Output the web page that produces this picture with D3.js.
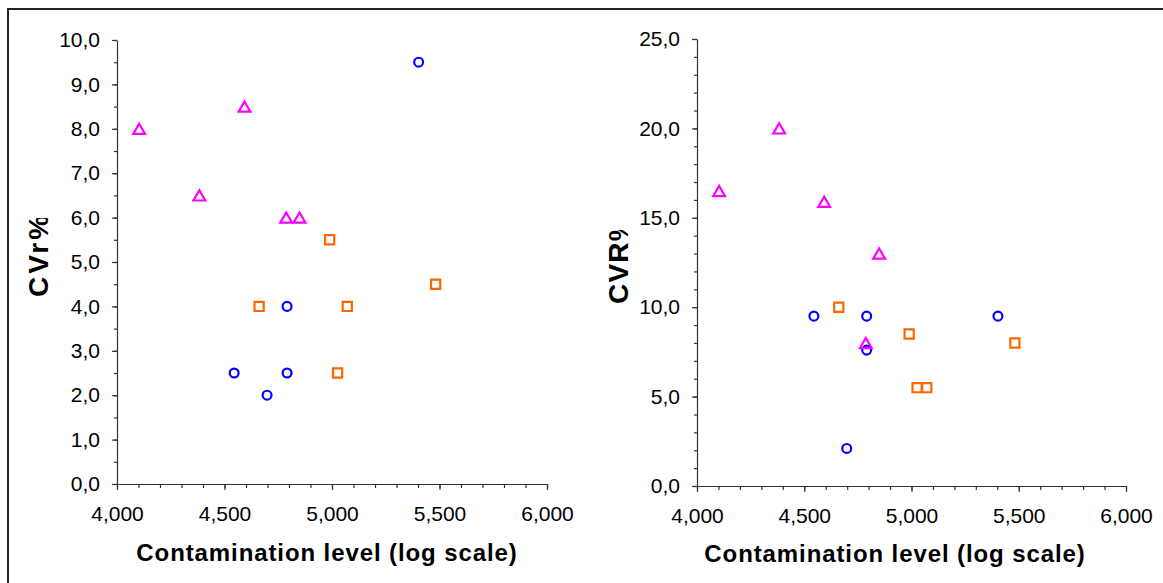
<!DOCTYPE html>
<html><head><meta charset="utf-8">
<script src="https://cdn.jsdelivr.net/npm/d3@7"></script>
<style>
body{margin:0;background:#fff}
svg{display:block}
text{font-family:"Liberation Sans",Arial,Helvetica,sans-serif;fill:#000}
</style>
</head><body>
<svg id="chart" width="1163" height="583"></svg>
<script>
// ---- data (x = log10 contamination level) ----
const xTickValues = [4.0, 4.5, 5.0, 5.5, 6.0];
const yTicksLeft = [0,1,2,3,4,5,6,7,8,9,10];
const yTicksRight = [0,5,10,15,20,25];

const xCircle   = [4.545, 4.698, 4.791, 4.791, 5.403];
const cvrCircle = [2.5, 2.0, 4.0, 2.5, 9.5];
const cvRCircle = [9.5, 2.1, 9.5, 7.6, 9.5];

const xTriangle   = [4.103, 4.383, 4.593, 4.787, 4.849];
const cvrTriangle = [8.0, 6.5, 8.5, 6.0, 6.0];
const cvRTriangle = [16.5, 20.0, 15.9, 8.0, 13.0];

const xSquare   = [4.661, 4.989, 5.026, 5.071, 5.482];
const cvrSquare = [4.0, 5.5, 2.5, 4.0, 4.5];
const cvRSquare = [10.0, 8.5, 5.5, 5.5, 8.0];

const xTitle = "Contamination level (log scale)";

const svg = d3.select("#chart");
const axisColor = "#333";

// outer frame
svg.append("rect").attr("x", 8).attr("y", 9).attr("width", 1170).attr("height", 600)
  .attr("fill", "none").attr("stroke", "#222").attr("stroke-width", 2);

const commaFmt = (spec) => (v) => d3.format(spec)(v).replace(".", ",");

function panel(cfg) {
  const g = svg.append("g");
  const x = d3.scaleLinear().domain([4, 6]).range([cfg.x0, cfg.x1]);
  const y = d3.scaleLinear().domain([0, cfg.yMax]).range([cfg.y0, cfg.y1]);

  // minor x ticks
  g.append("g").attr("transform", `translate(0,${cfg.y0})`)
    .call(d3.axisBottom(x).tickValues(d3.range(40, 61).map(d => d / 10)).tickSize(4).tickFormat(""))
    .call(a => a.select(".domain").remove());
  // major x ticks
  const xa = g.append("g").attr("transform", `translate(0,${cfg.y0})`)
    .call(d3.axisBottom(x).tickValues(xTickValues).tickSize(6).tickSizeOuter(0).tickPadding(16).tickFormat(commaFmt(".3f")));
  xa.selectAll("text").attr("font-size", 21).attr("fill", "#000");

  // minor y ticks
  g.append("g").attr("transform", `translate(${cfg.x0},0)`)
    .call(d3.axisLeft(y).tickValues(d3.range(0, cfg.yMax + 0.001, cfg.minor)).tickSize(3).tickFormat(""))
    .call(a => a.select(".domain").remove());
  const ya = g.append("g").attr("transform", `translate(${cfg.x0},0)`)
    .call(d3.axisLeft(y).tickValues(cfg.yTicks).tickSize(5).tickSizeOuter(0).tickPadding(12).tickFormat(commaFmt(".1f")));
  ya.selectAll("text").attr("font-size", 21).attr("fill", "#000");

  g.selectAll(".domain, .tick line").attr("stroke", axisColor).attr("stroke-width", 1.2);

  // axis titles
  g.append("text").attr("x", cfg.xTitleX).attr("y", cfg.xTitleY)
    .attr("text-anchor", "middle").attr("font-size", 24).attr("font-weight", "bold")
    .attr("letter-spacing", 0.9).text(xTitle);

  const clipId = "clip" + cfg.id;
  svg.append("clipPath").attr("id", clipId).append("rect")
    .attr("x", cfg.yTitleX - 50).attr("y", cfg.yTitleClip).attr("width", 80).attr("height", 400);
  g.append("g").attr("clip-path", `url(#${clipId})`)
    .append("text").attr("transform", `translate(${cfg.yTitleX},${cfg.yTitleStart}) rotate(-90)`)
    .attr("text-anchor", "start").attr("font-size", 28).attr("font-weight", "bold")
    .attr("letter-spacing", cfg.yTitleSpacing).text(cfg.yTitle);

  // markers
  const circ = d3.symbol().type(d3.symbolCircle).size(62)();
  const sq = d3.symbol().type(d3.symbolSquare).size(84)();
  const triSize = 60;
  const tri = d3.symbol().type(d3.symbolTriangle).size(triSize)();
  const triSide = Math.sqrt(triSize * 4 / Math.sqrt(3));
  const triH = triSide * Math.sqrt(3) / 2;

  g.selectAll(".c").data(d3.zip(xCircle, cfg.circle)).join("path")
    .attr("d", circ).attr("transform", d => `translate(${x(d[0])},${y(d[1])})`)
    .attr("fill", "none").attr("stroke", "#0000FF").attr("stroke-width", 2.2);
  g.selectAll(".s").data(d3.zip(xSquare, cfg.square)).join("path")
    .attr("d", sq).attr("transform", d => `translate(${x(d[0])},${y(d[1])})`)
    .attr("fill", "none").attr("stroke", "#FF6600").attr("stroke-width", 2.2);
  g.selectAll(".t").data(d3.zip(xTriangle, cfg.triangle)).join("path")
    .attr("d", tri).attr("transform", d => `translate(${x(d[0])},${y(d[1]) + triH / 6})`)
    .attr("fill", "none").attr("stroke", "#FF00FF").attr("stroke-width", 2.2);
}

panel({id: "L", x0: 117, x1: 547, y0: 484, y1: 40, yMax: 10, yTicks: yTicksLeft, minor: 0.5,
  circle: cvrCircle, triangle: cvrTriangle, square: cvrSquare,
  xTitleX: 327, xTitleY: 561, yTitle: "CVr%", yTitleX: 48, yTitleStart: 297, yTitleClip: 218, yTitleSpacing: 3});
panel({id: "R", x0: 697, x1: 1126, y0: 486, y1: 39, yMax: 25, yTicks: yTicksRight, minor: 1,
  circle: cvRCircle, triangle: cvRTriangle, square: cvRSquare,
  xTitleX: 895, xTitleY: 562, yTitle: "CVR%", yTitleX: 628, yTitleStart: 304, yTitleClip: 230, yTitleSpacing: 1.2});
</script>
</body></html>
